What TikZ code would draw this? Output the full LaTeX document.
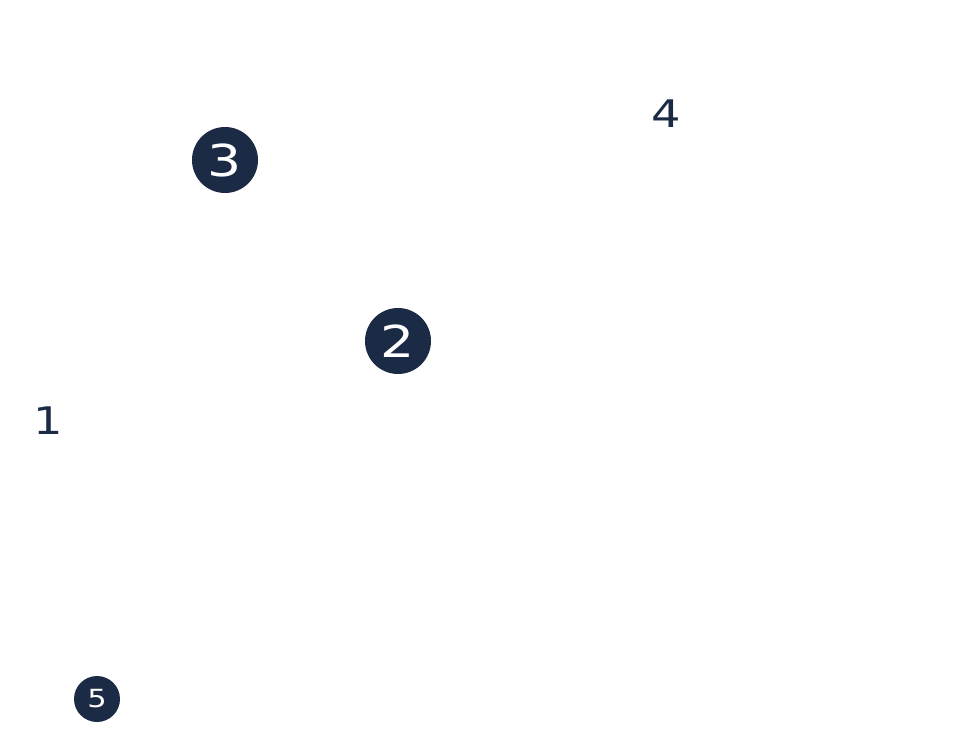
\documentclass[tikz,border=0pt]{standalone}
\usepackage{fontspec}
\setmainfont{DejaVu Sans}
\usetikzlibrary{positioning}
\definecolor{navy}{HTML}{1C2B45}

\newcommand{\digit}[2]{{\fontsize{#1}{#1}\selectfont\scalebox{1.22}[1]{#2}}}

\begin{document}
\begin{tikzpicture}[x=1pt,y=-1pt]
\tikzset{
  badge/.style={circle, fill=navy, text=white, inner sep=0pt, minimum size=#1},
  badge/.default={66pt},
  mark label/.style={text=navy, inner sep=0pt}
}
\useasboundingbox (0,0) rectangle (971,741);

\node[badge] (three) at (225,160) {\digit{44}{3}};
\node[badge] (two) at (398,341) {\digit{44}{2}};
\node[badge=46pt] (five) at (97,699) {\digit{25}{5}};

\node[mark label] (four) at (666,114) {\digit{38}{4}};
\node[mark label] (one) at (48,421) {\digit{38}{1}};
\end{tikzpicture}
\end{document}
